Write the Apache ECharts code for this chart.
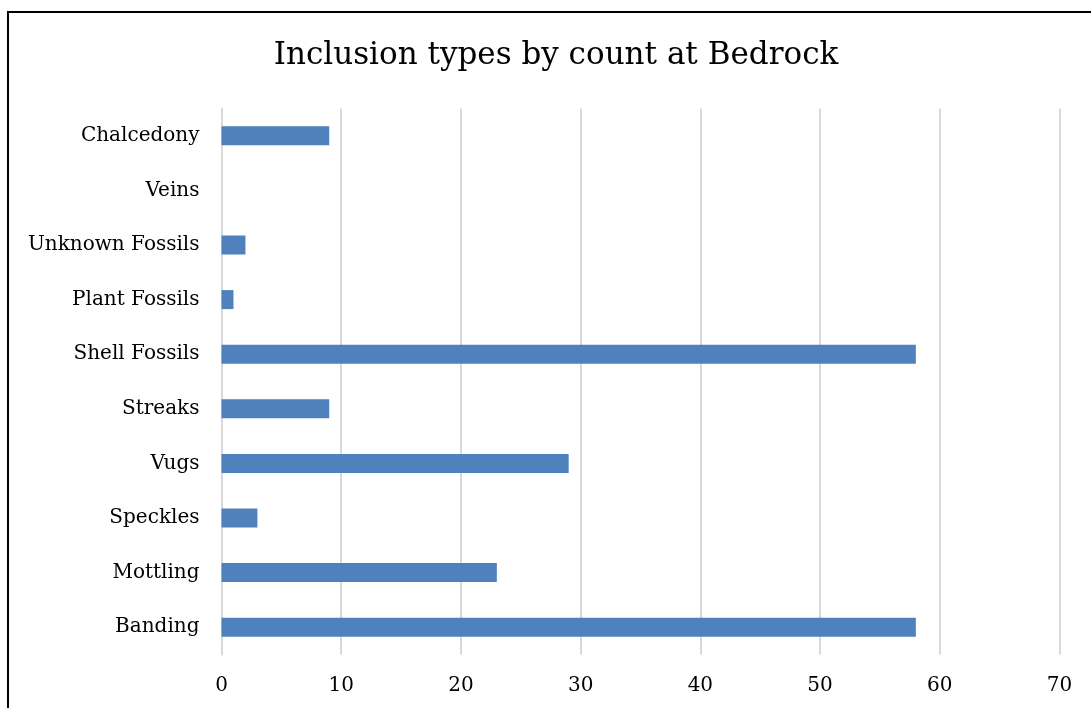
<!DOCTYPE html>
<html>
<head>
<meta charset="utf-8">
<script src="https://cdn.jsdelivr.net/npm/echarts@6/dist/echarts.min.js"></script>
<style>
  html, body { margin: 0; padding: 0; background: #fff; }
</style>
</head>
<body>
<div id="main" style="width: 1091px;height:708px;"></div>
<script>
// categories from bottom to top
var categories = ['Banding', 'Mottling', 'Speckles', 'Vugs', 'Streaks', 'Shell Fossils', 'Plant Fossils', 'Unknown Fossils', 'Veins', 'Chalcedony']
var counts = [58, 23, 3, 29, 9, 58, 1, 2, 0, 9]
var xTicks = [0, 10, 20, 30, 40, 50, 60, 70]

var chartDom = document.getElementById('main')
var myChart = echarts.init(chartDom)
var font = 'DejaVu Serif'
var option = {
  backgroundColor: '#ffffff',
  animation: false,
  graphic: [{
    type: 'rect',
    shape: { x: 8, y: 12, width: 1200, height: 800 },
    style: { fill: 'none', stroke: '#000', lineWidth: 2 },
    silent: true
  }],
  title: {
    text: 'Inclusion types by count at Bedrock',
    left: 555,
    top: 35,
    textAlign: 'center',
    textStyle: {
      fontFamily: font,
      fontWeight: 'normal',
      fontSize: 31,
      color: '#000'
    }
  },
  grid: {
    left: 221.5,
    right: 31.5,
    top: 108.5,
    bottom: 53.5,
    containLabel: false
  },
  xAxis: {
    type: 'value',
    min: xTicks[0],
    max: xTicks[xTicks.length - 1],
    interval: 10,
    axisLine: { show: false },
    axisTick: { show: false },
    splitLine: { show: true, lineStyle: { color: '#d9d9d9', width: 2 } },
    axisLabel: {
      margin: 21,
      fontFamily: font,
      fontSize: 20,
      color: '#000'
    }
  },
  yAxis: {
    type: 'category',
    data: categories,
    axisLine: { show: true, lineStyle: { color: '#d9d9d9', width: 2 } },
    axisTick: { show: false },
    axisLabel: {
      margin: 22,
      fontFamily: font,
      fontSize: 20,
      color: '#000'
    }
  },
  series: [{
    type: 'bar',
    data: counts,
    barWidth: 19,
    itemStyle: {
      color: '#4f81bd'
    }
  }]
}
option.title.left = 551
option && myChart.setOption(option)
</script>
</body>
</html>
